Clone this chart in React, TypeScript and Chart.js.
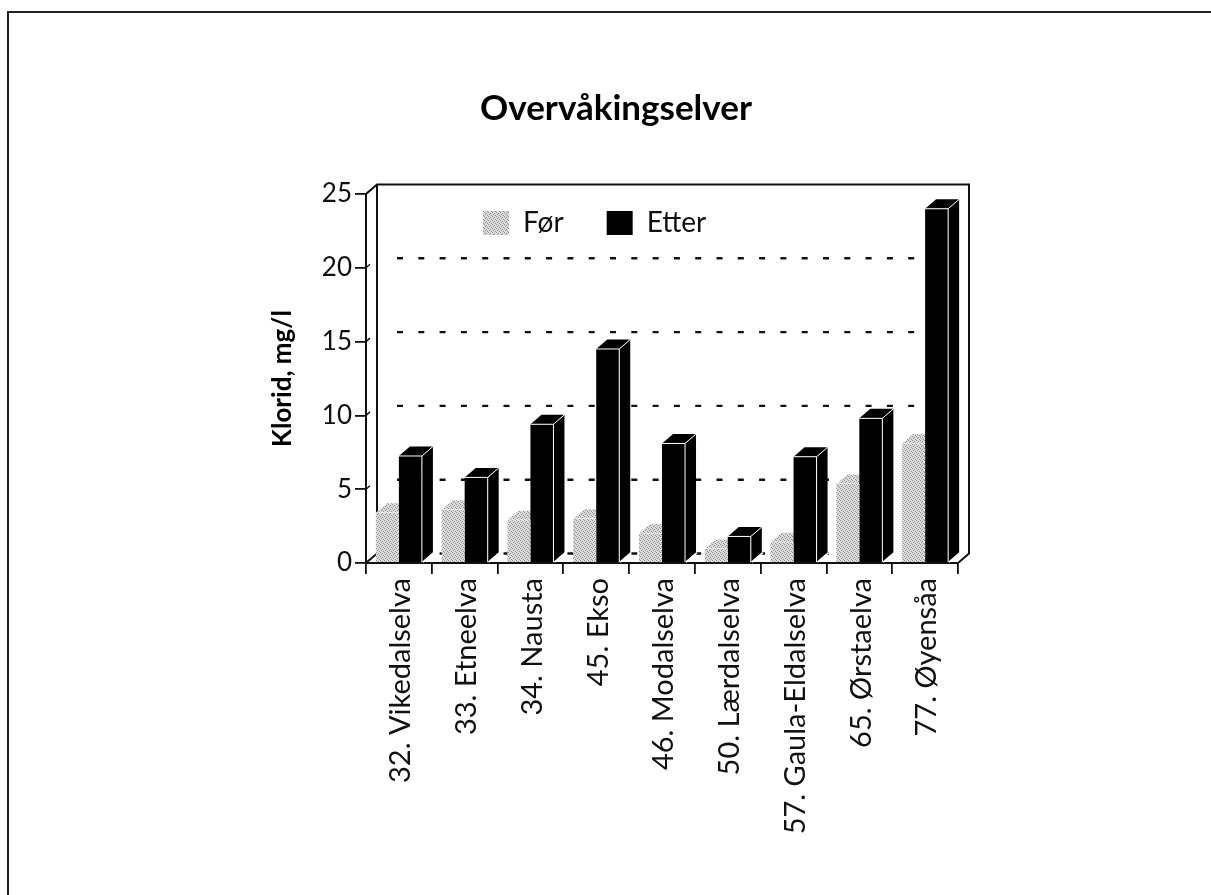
import React, { useEffect, useRef } from "react";
import { Chart, registerables } from "chart.js";

Chart.register(...registerables);

const categories = [
  "32. Vikedalselva",
  "33. Etneelva",
  "34. Nausta",
  "45. Ekso",
  "46. Modalselva",
  "50. Lærdalselva",
  "57. Gaula-Eldalselva",
  "65. Ørstaelva",
  "77. Øyensåa",
];
const forValues = [3.4, 3.6, 2.9, 3.0, 2.0, 0.95, 1.4, 5.35, 8.1];
const etterValues = [7.25, 5.8, 9.4, 14.5, 8.1, 1.8, 7.2, 9.8, 24.0];
const yTicks = [0, 5, 10, 15, 20, 25];

const DEPTH_X = 11;
const DEPTH_Y = 9.5;
const FONT = "Lato, 'Open Sans', sans-serif";

function dottedPattern(): CanvasPattern | string {
  const tile = document.createElement("canvas");
  tile.width = 4;
  tile.height = 4;
  const c = tile.getContext("2d");
  if (!c) return "#c4c4c4";
  c.fillStyle = "#dcdcdc";
  c.fillRect(0, 0, 4, 4);
  c.fillStyle = "#8e8e8e";
  [[0, 0], [2, 1], [1, 2], [3, 3]].forEach(([x, y]) => c.fillRect(x, y, 1, 1));
  return c.createPattern(tile, "repeat") ?? "#c4c4c4";
}

function drawFaces(chart: any, index: number) {
  const { ctx } = chart;
  const meta = chart.getDatasetMeta(index);
  const dark = index === 1;
  const fill = chart.data.datasets[index].backgroundColor;
  ctx.save();
  meta.data.forEach((bar: any) => {
    const w = bar.width;
    const l = bar.x - w / 2;
    const r = bar.x + w / 2;
    const t = bar.y;
    const b = bar.base;
    ctx.fillStyle = fill;
    ctx.beginPath();
    ctx.moveTo(r, t);
    ctx.lineTo(r + DEPTH_X, t - DEPTH_Y);
    ctx.lineTo(r + DEPTH_X, b - DEPTH_Y);
    ctx.lineTo(r, b);
    ctx.closePath();
    ctx.fill();
    ctx.beginPath();
    ctx.moveTo(l, t);
    ctx.lineTo(l + DEPTH_X, t - DEPTH_Y);
    ctx.lineTo(r + DEPTH_X, t - DEPTH_Y);
    ctx.lineTo(r, t);
    ctx.closePath();
    ctx.fill();
    ctx.strokeStyle = "#ffffff";
    ctx.lineWidth = 1;
    ctx.beginPath();
    ctx.moveTo(l, t);
    ctx.lineTo(r, t);
    if (dark) {
      ctx.lineTo(r, b);
      ctx.moveTo(r, t);
      ctx.lineTo(r + DEPTH_X, t - DEPTH_Y);
    }
    ctx.stroke();
    if (dark) {
      ctx.lineWidth = 1.5;
      ctx.beginPath();
      ctx.moveTo(r + 1, b);
      ctx.lineTo(r + DEPTH_X + 1, b - DEPTH_Y);
      ctx.stroke();
    }
  });
  ctx.restore();
}

const threeD = {
  id: "threeD",
  beforeLayout(chart: any) {
    const lg = chart.legend;
    if (lg && !lg.__flat) {
      lg.__flat = true;
      const fit = lg.fit;
      lg.fit = function () {
        fit.call(this);
        this.height = 0;
      };
    }
  },
  afterLayout(chart: any) {
    const lg = chart.legend;
    if (lg) {
      const pad = lg.options.labels.padding;
      lg.left = 483 - pad;
      lg.right = lg.left + 420;
      lg.top = 209 - pad;
      lg.bottom = lg.top + 140;
    }
    const tt = chart.titleBlock;
    if (tt) {
      tt.left += 2;
      tt.right += 2;
    }
  },
  beforeDatasetsDraw(chart: any) {
    const { ctx, chartArea: a, scales } = chart;
    const y = scales.y;
    ctx.save();
    ctx.strokeStyle = "#111";
    ctx.lineWidth = 2;
    ctx.beginPath();
    ctx.moveTo(a.left, a.top);
    ctx.lineTo(a.left + DEPTH_X, a.top - DEPTH_Y);
    ctx.lineTo(a.right + DEPTH_X, a.top - DEPTH_Y);
    ctx.lineTo(a.right + DEPTH_X, a.bottom - DEPTH_Y);
    ctx.lineTo(a.right, a.bottom);
    ctx.moveTo(a.left + DEPTH_X, a.top - DEPTH_Y);
    ctx.lineTo(a.left + DEPTH_X, a.bottom - DEPTH_Y);
    ctx.moveTo(a.left, a.bottom);
    ctx.lineTo(a.left + DEPTH_X, a.bottom - DEPTH_Y);
    ctx.stroke();
    yTicks.forEach((v) => {
      const py = y.getPixelForValue(v);
      if (v < 25) {
        ctx.setLineDash([6, 15.3]);
        ctx.lineWidth = 2.4;
        ctx.beginPath();
        ctx.moveTo(a.left + DEPTH_X + 20, py - DEPTH_Y);
        ctx.lineTo(a.right + DEPTH_X, py - DEPTH_Y);
        ctx.stroke();
        ctx.setLineDash([]);
      }
      ctx.lineWidth = 1.4;
      ctx.beginPath();
      ctx.moveTo(a.left, py);
      ctx.lineTo(a.left + 4, py - 3.5);
      ctx.stroke();
    });
    ctx.restore();
    drawFaces(chart, 0);
  },
  afterDatasetsDraw(chart: any) {
    drawFaces(chart, 1);
  },
};

export default function App() {
  const ref = useRef<HTMLCanvasElement>(null);
  useEffect(() => {
    if (!ref.current) return;
    const pattern = dottedPattern();
    const chart = new Chart(ref.current, {
      type: "bar",
      data: {
        labels: categories,
        datasets: [
          { label: "Før", data: forValues, backgroundColor: pattern as any, borderWidth: 0 },
          { label: "Etter", data: etterValues, backgroundColor: "#000000", borderWidth: 0 },
        ],
      },
      options: {
        animation: false,
        responsive: false,
        layout: { padding: { left: 270, right: 253, top: 0, bottom: 0 } },
        datasets: { bar: { barPercentage: 1, categoryPercentage: 0.7 } },
        scales: {
          x: {
            afterFit(s: any) { s.height = 332; },
            grid: { offset: true, drawOnChartArea: false, tickLength: 11, color: "#111", lineWidth: 1.8 },
            border: { color: "#111", width: 2 },
            ticks: {
              color: "#111",
              autoSkip: false,
              minRotation: 90,
              maxRotation: 90,
              labelOffset: 2,
              padding: 4,
              font: { family: FONT, size: 29 },
            },
          },
          y: {
            min: 0,
            max: 25,
            afterFit(s: any) { s.width = 96; },
            afterBuildTicks(s: any) { s.ticks = yTicks.map((value) => ({ value })); },
            grid: { drawOnChartArea: false, tickLength: 11, color: "#111", lineWidth: 1.8 },
            border: { color: "#111", width: 2 },
            title: {
              display: true,
              text: "Klorid, mg/l",
              color: "#000",
              padding: 0,
              font: { family: FONT, size: 26, weight: "bold", lineHeight: 1 },
            },
            ticks: { color: "#111", padding: 3, font: { family: FONT, size: 26 } },
          },
        },
        plugins: {
          title: {
            display: true,
            text: "Overvåkingselver",
            color: "#000",
            padding: { top: 88, bottom: 64 },
            font: { family: FONT, size: 35, weight: "bold" },
          },
          tooltip: { enabled: false },
          legend: {
            position: "top",
            align: "start",
            labels: {
              color: "#111",
              boxWidth: 26,
              boxHeight: 24,
              padding: 43,
              font: { family: FONT, size: 28 },
            },
          },
        },
      },
      plugins: [threeD],
    });
    return () => chart.destroy();
  }, []);
  return (
    <div style={{ position: "absolute", left: 0, top: 0, width: 1211, height: 895, background: "#fff", overflow: "hidden" }}>
      <div style={{ position: "absolute", left: 7, top: 11, width: 1300, height: 1000, border: "2px solid #222", boxSizing: "border-box" }} />
      <canvas ref={ref} width={1211} height={895} style={{ position: "absolute", left: 0, top: 0, display: "block" }} />
    </div>
  );
}
